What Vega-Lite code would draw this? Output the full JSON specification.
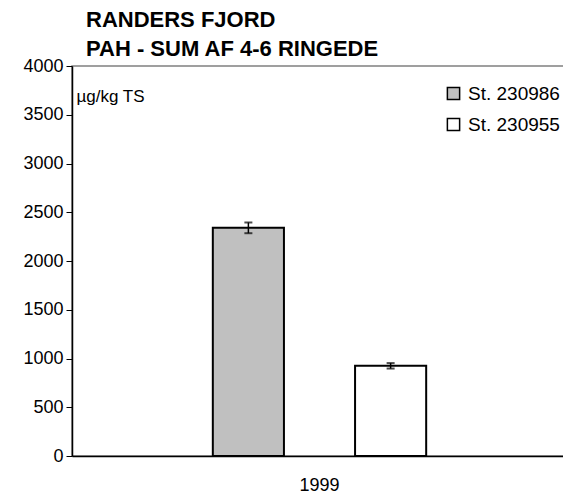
{
  "$schema": "https://vega.github.io/schema/vega-lite/v6.json",
  "autosize": {"type": "none"},
  "padding": {"left": 72, "top": 66, "right": 0, "bottom": 45},
  "width": 495,
  "height": 390,
  "title": {
    "text": ["RANDERS FJORD", "PAH - SUM AF 4-6 RINGEDE"],
    "anchor": "start",
    "frame": "group",
    "dx": 14,
    "offset": -4,
    "font": "Liberation Sans",
    "fontSize": 22,
    "fontWeight": "bold",
    "lineHeight": 29,
    "color": "black"
  },
  "config": {
    "font": "Liberation Sans",
    "view": {"stroke": "#808080", "strokeWidth": 1.5}
  },
  "data": {
    "values": [
      {"year": "1999", "station": "St. 230986", "value": 2340, "lo": 2285, "hi": 2395},
      {"year": "1999", "station": "St. 230955", "value": 925, "lo": 897, "hi": 953}
    ]
  },
  "encoding": {
    "x": {
      "field": "year",
      "type": "nominal",
      "scale": {"paddingInner": 0, "paddingOuter": 0.66},
      "axis": {
        "title": null,
        "labelAngle": 0,
        "labelFontSize": 18,
        "labelColor": "black",
        "labelPadding": 20,
        "ticks": false,
        "domainColor": "black",
        "domainWidth": 1.5
      }
    },
    "xOffset": {
      "field": "station",
      "type": "nominal",
      "sort": ["St. 230986", "St. 230955"],
      "scale": {"paddingInner": 0.5, "paddingOuter": 0}
    }
  },
  "layer": [
    {
      "mark": {"type": "bar", "stroke": "black", "strokeWidth": 2},
      "encoding": {
        "y": {
          "field": "value",
          "type": "quantitative",
          "scale": {"domain": [0, 4000], "nice": false},
          "axis": {
            "values": [0, 250, 500, 750, 1000, 1250, 1500, 1750, 2000, 2250, 2500, 2750, 3000, 3250, 3500, 3750, 4000],
            "labelExpr": "datum.value % 500 === 0 ? datum.label : ''",
            "format": "d",
            "labelOverlap": false,
            "labelFontSize": 18,
            "labelColor": "black",
            "labelPadding": 3,
            "tickSize": 6,
            "tickColor": "black",
            "domainColor": "black",
            "domainWidth": 1.5,
            "grid": false,
            "title": "µg/kg TS",
            "titleAngle": 0,
            "titleAlign": "left",
            "titleBaseline": "middle",
            "titleX": 4,
            "titleY": 30,
            "titleFontSize": 17,
            "titleFontWeight": "normal",
            "titleColor": "black"
          }
        },
        "fill": {
          "field": "station",
          "type": "nominal",
          "sort": ["St. 230986", "St. 230955"],
          "scale": {"domain": ["St. 230986", "St. 230955"], "range": ["#c0c0c0", "#ffffff"]},
          "legend": {
            "title": null,
            "orient": "none",
            "legendX": 372,
            "legendY": 18,
            "symbolType": "square",
            "symbolSize": 150,
            "symbolStrokeColor": "black",
            "symbolStrokeWidth": 1.5,
            "symbolOpacity": 1,
            "labelFontSize": 19,
            "labelColor": "black",
            "labelOffset": 5,
            "rowPadding": 11
          }
        }
      }
    },
    {
      "mark": {"type": "rule", "color": "black", "strokeWidth": 1.5},
      "encoding": {
        "y": {"field": "lo", "type": "quantitative"},
        "y2": {"field": "hi"}
      }
    },
    {
      "mark": {"type": "tick", "color": "black", "size": 8, "thickness": 2},
      "encoding": {"y": {"field": "lo", "type": "quantitative"}}
    },
    {
      "mark": {"type": "tick", "color": "black", "size": 8, "thickness": 2},
      "encoding": {"y": {"field": "hi", "type": "quantitative"}}
    }
  ]
}
